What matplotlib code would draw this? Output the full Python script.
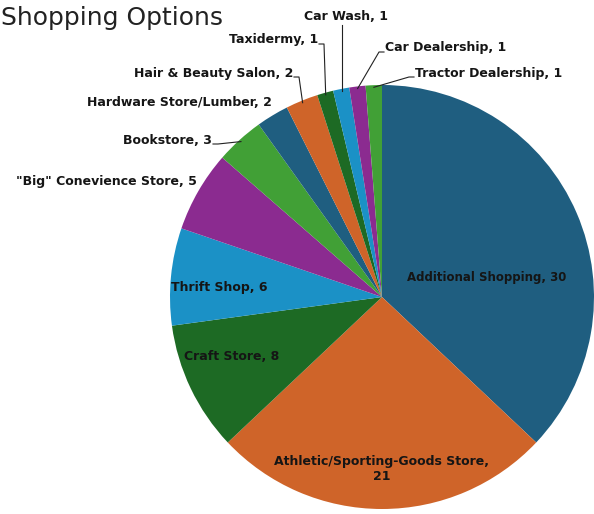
import matplotlib.pyplot as plt
import numpy as np

# shopping categories and counts
labels = ["Additional Shopping", "Athletic/Sporting-Goods Store", "Craft Store",
          "Thrift Shop", "\"Big\" Conevience Store", "Bookstore",
          "Hardware Store/Lumber", "Hair & Beauty Salon", "Taxidermy",
          "Car Wash", "Car Dealership", "Tractor Dealership"]
counts = [30, 21, 8, 6, 5, 3, 2, 2, 1, 1, 1, 1]
colors = ["#1f5e80", "#cf6429", "#1d6a24", "#1b91c6", "#8b2b90", "#41a036"] * 2

W, H = 594, 514
cx, cy, R = 382, H - 297, 212

fig = plt.figure(figsize=(W / 100, H / 100), dpi=100)
ax = fig.add_axes([0, 0, 1, 1])
ax.set_aspect("equal")
ax.axis("off")

wedges, _ = ax.pie(counts, colors=colors, startangle=90, counterclock=False,
                   center=(cx, cy), radius=R, wedgeprops=dict(linewidth=0))
ax.set_xlim(0, W)
ax.set_ylim(0, H)

font = dict(family="DejaVu Sans", fontsize=9, weight="bold", color="#151515")

# labels placed inside the big wedges
inside = {0: (487, 277, "center", 8.5), 1: (382, 469, "center", 9),
          2: (184, 357, "left", 9), 3: (171, 288, "left", 9)}
for i, (x, y, ha, fs) in inside.items():
    txt = f"{labels[i]}, {counts[i]}"
    if i == 1:
        txt = f"{labels[i]},\n{counts[i]}"
    ax.text(x, H - y, txt, ha=ha, va="center", linespacing=1.3,
            **{**font, "fontsize": fs})

# labels outside the small wedges with leader lines
outside = {4: (197, 182, "right"), 5: (212, 140, "right"),
           6: (272, 103, "right"), 7: (293, 73, "right"),
           8: (318, 40, "right"), 9: (346, 17, "center"),
           10: (385, 48, "left"), 11: (415, 73, "left")}
for i, (x, y, ha) in outside.items():
    w = wedges[i]
    ang = np.deg2rad((w.theta1 + w.theta2) / 2)
    px = cx + 0.99 * R * np.cos(ang)
    py = cy + 0.99 * R * np.sin(ang)
    ax.text(x, H - y, f"{labels[i]}, {counts[i]}", ha=ha, va="center", **font)
    if i in (4, 6):
        continue
    ty = H - y - 4
    if ha == "right":
        xs, ys = [x + 1, x + 6, px], [ty, ty, py]
    elif ha == "left":
        xs, ys = [x - 1, x - 6, px], [ty, ty, py]
    else:
        xs, ys = [px, px], [H - y - 8, py]
    ax.plot(xs, ys, color="#222222", lw=0.8)

ax.text(1, H - 18, "Shopping Options", fontsize=18, family="DejaVu Sans",
        color="#222222", va="center", ha="left")

fig.savefig("out.png", dpi=100)
